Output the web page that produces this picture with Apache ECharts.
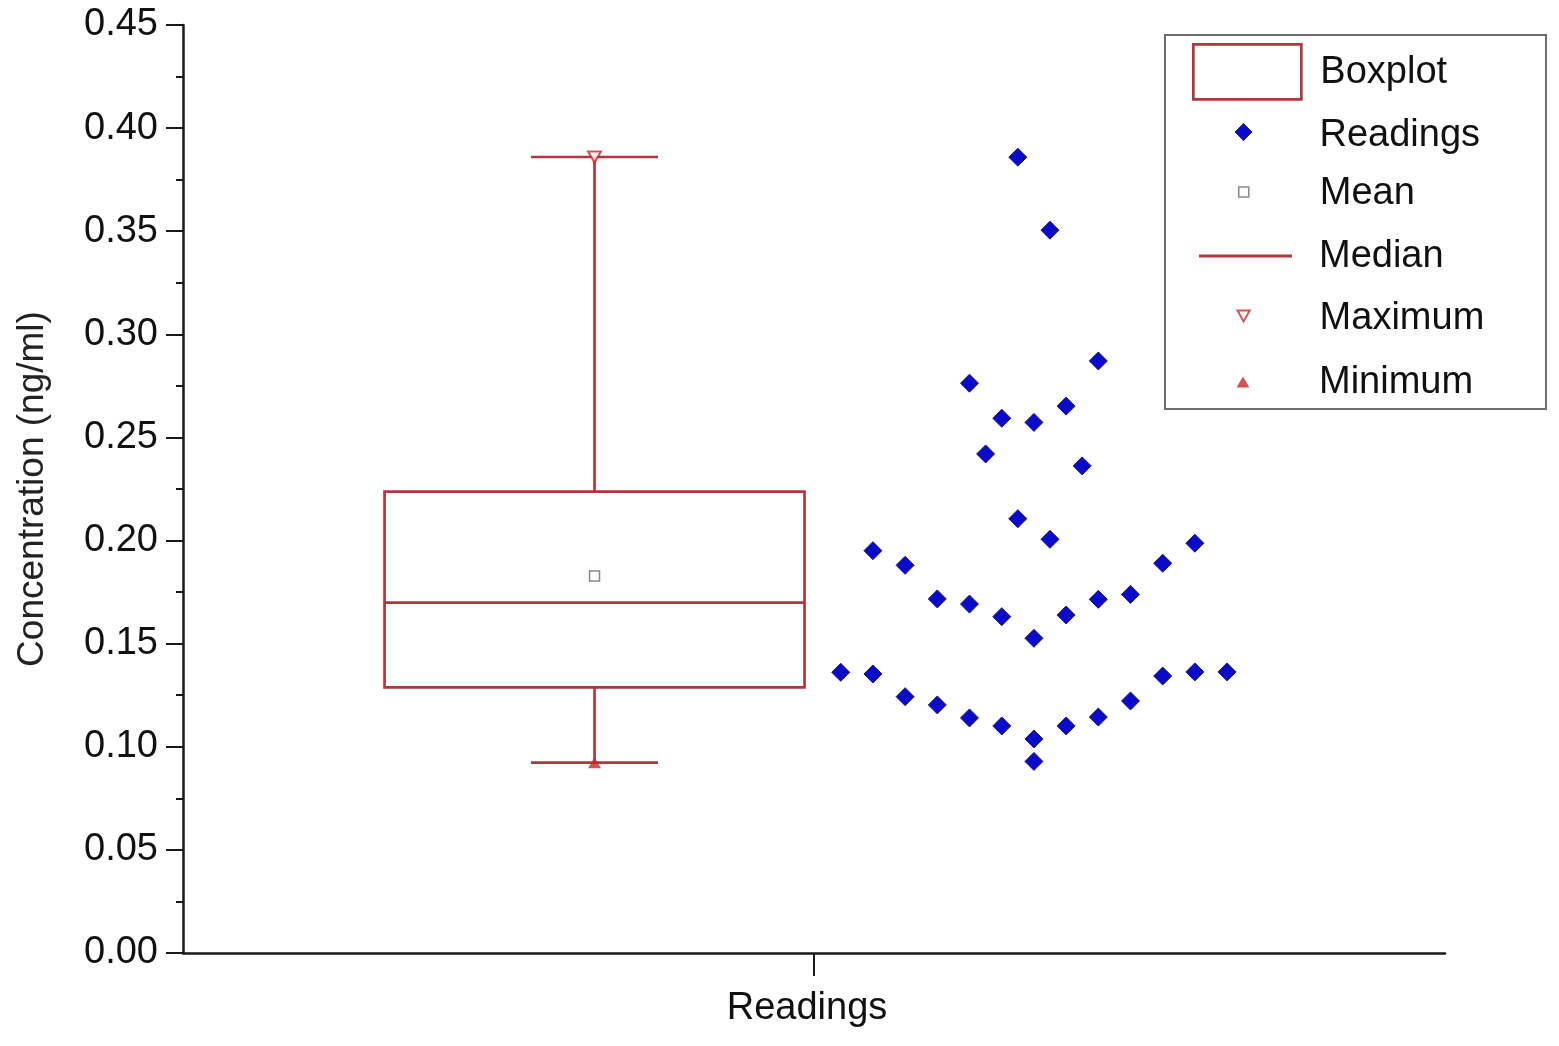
<!DOCTYPE html>
<html>
<head>
<meta charset="utf-8">
<script src="https://cdn.jsdelivr.net/npm/echarts@6/dist/echarts.min.js"></script>
<style>
html,body{margin:0;padding:0;background:#fff;}
#chart{width:1559px;height:1046px;}
</style>
</head>
<body>
<div id="chart"></div>
<script>
// ---------- data ----------
const categoryLabel = 'Readings';
const yTickLabels = ['0.00','0.05','0.10','0.15','0.20','0.25','0.30','0.35','0.40','0.45'];
// beeswarm x positions (axis units) and concentrations (ng/ml)
const readingsX = [
  0.5212,0.5467,0.5722,0.5977,0.6232,0.6488,0.6743,0.6743,0.6998,0.7253,0.7508,0.7763,0.8018,0.8273,
  0.5467,0.5722,0.5977,0.6232,0.6488,0.6743,0.6998,0.7253,0.7508,0.7763,0.8018,0.6615,0.6870,
  0.6615,0.6870,0.7253,0.6232,0.6488,0.6743,0.6998,0.6360,0.7125
];
const readingsY = [
  0.1361,0.1353,0.1243,0.1203,0.1140,0.1101,0.1038,0.0929,0.1101,0.1144,0.1222,0.1343,0.1363,0.1363,
  0.1951,0.1880,0.1717,0.1692,0.1631,0.1526,0.1639,0.1715,0.1739,0.1890,0.1987,0.2106,0.2006,
  0.3859,0.3505,0.2871,0.2763,0.2593,0.2573,0.2652,0.2420,0.2362
];
// box statistics: [x, min, Q1, median, Q3, max]
const boxStats = [0.3261, 0.0923, 0.1288, 0.1699, 0.2237, 0.3860];
const meanValue = 0.1828;
const legendNames = ['Boxplot','Readings','Mean','Median','Maximum','Minimum'];

// ---------- styles ----------
const RED = '#ad383d';
const FONT = '"Liberation Sans", Arial, sans-serif';
const BOX_HALF = 0.1664;
const CAP_HALF = 0.0503;

const chart = echarts.init(document.getElementById('chart'));

const readingsData = readingsX.map((x, i) => [x, readingsY[i]]);

function renderBox(params, api) {
  const x = api.value(0), mn = api.value(1), q1 = api.value(2), q3 = api.value(4), mx = api.value(5);
  const tl = api.coord([x - BOX_HALF, q3]);
  const br = api.coord([x + BOX_HALF, q1]);
  const cQ3 = api.coord([x, q3]), cMax = api.coord([x, mx]);
  const cQ1 = api.coord([x, q1]), cMin = api.coord([x, mn]);
  const capL1 = api.coord([x - CAP_HALF, mx]), capR1 = api.coord([x + CAP_HALF, mx]);
  const capL2 = api.coord([x - CAP_HALF, mn]), capR2 = api.coord([x + CAP_HALF, mn]);
  const st = {stroke: RED, lineWidth: 2.7, fill: null};
  return {
    type: 'group',
    children: [
      {type: 'line', shape: {x1: cQ3[0], y1: cQ3[1], x2: cMax[0], y2: cMax[1]}, style: st},
      {type: 'line', shape: {x1: cQ1[0], y1: cQ1[1], x2: cMin[0], y2: cMin[1]}, style: st},
      {type: 'line', shape: {x1: capL1[0], y1: capL1[1], x2: capR1[0], y2: capR1[1]}, style: st},
      {type: 'line', shape: {x1: capL2[0], y1: capL2[1], x2: capR2[0], y2: capR2[1]}, style: st},
      {type: 'rect', shape: {x: tl[0], y: tl[1], width: br[0] - tl[0], height: br[1] - tl[1]},
        style: {stroke: RED, lineWidth: 2.7, fill: 'rgba(0,0,0,0)'}}
    ]
  };
}
function renderMedian(params, api) {
  const x = api.value(0), med = api.value(3);
  const a = api.coord([x - BOX_HALF, med]), b = api.coord([x + BOX_HALF, med]);
  return {type: 'line', shape: {x1: a[0], y1: a[1], x2: b[0], y2: b[1]}, style: {stroke: RED, lineWidth: 2.7}};
}

const TRI_DOWN = 'path://M0,0 L10,0 L5,9 Z';
const legendIcons = {
  'Boxplot':  {icon: 'rect', w: 108, h: 55, cx: 1246, cy: 70.5, dy: 1, itemStyle: {color: '#fff', borderColor: RED, borderWidth: 2.7}},
  'Readings': {icon: 'diamond', w: 17, h: 17, cx: 1243, cy: 131, dy: 4, itemStyle: {color: '#0a0acc', borderColor: '#202060', borderWidth: 1}},
  'Mean':     {icon: 'rect', w: 10, h: 10, cx: 1243, cy: 192, dy: 2, itemStyle: {color: '#fff', borderColor: '#7d6465', borderWidth: 1.5}},
  'Median':   {icon: 'rect', w: 93, h: 3, cx: 1245.5, cy: 256, dy: 1, itemStyle: {color: RED, borderWidth: 0}},
  'Maximum':  {icon: TRI_DOWN, w: 13, h: 11, cx: 1243, cy: 316, dy: 3, itemStyle: {color: '#fff', borderColor: '#c8282c', borderWidth: 2}},
  'Minimum':  {icon: 'triangle', w: 13, h: 11, cx: 1243, cy: 382, dy: 1, itemStyle: {color: '#c8282c', borderWidth: 0}}
};
const TEXT_X = 1319;
const LH = 44;
const legends = legendNames.map(name => {
  const c = legendIcons[name];
  const left = c.cx - c.w / 2;
  const spacer = TEXT_X - (left + c.w + 5);
  return {
    show: true,
    orient: 'vertical',
    padding: 0,
    left: left,
    top: c.cy - Math.max(c.h, LH) / 2,
    itemWidth: c.w,
    itemHeight: c.h,
    selectedMode: false,
    data: [{name: name, icon: c.icon, itemStyle: c.itemStyle}],
    formatter: n => '{sp| }{t|' + n + '}',
    textStyle: {
      fontSize: 38, fontFamily: FONT, color: '#111', lineHeight: LH,
      rich: {
        sp: {width: spacer, fontSize: 38, lineHeight: LH},
        t: {fontSize: 38, fontFamily: FONT, color: '#111', lineHeight: LH, padding: [2 * c.dy, 0, 0, 0]}
      }
    }
  };
});

const option = {
  backgroundColor: '#fff',
  animation: false,
  grid: {left: 183, right: 114, top: 25, bottom: 93, containLabel: false},
  xAxis: {
    type: 'value', min: 0, max: 1, interval: 0.5,
    axisLine: {show: true, onZero: false, lineStyle: {color: '#1a1a1a', width: 2.5}},
    axisTick: {show: true, inside: false, length: 23, customValues: [0.5], lineStyle: {color: '#1a1a1a', width: 2}},
    axisLabel: {show: true, customValues: [0.5], formatter: () => categoryLabel, margin: 37,
      padding: [0, 14, 0, 0], fontSize: 38, fontFamily: FONT, color: '#111'},
    splitLine: {show: false}
  },
  yAxis: {
    type: 'value', min: 0, max: 0.45, interval: 0.05,
    name: 'Concentration (ng/ml)', nameLocation: 'middle', nameGap: 132,
    nameTextStyle: {fontSize: 37, fontFamily: FONT, color: '#222'},
    axisLine: {show: true, lineStyle: {color: '#1a1a1a', width: 2.5}},
    axisTick: {show: true, inside: false, length: 17, lineStyle: {color: '#1a1a1a', width: 2}},
    minorTick: {show: true, splitNumber: 2, length: 7, lineStyle: {color: '#1a1a1a', width: 2}},
    axisLabel: {margin: 25, fontSize: 38, fontFamily: FONT, color: '#111',
      formatter: (v) => yTickLabels[Math.round(v / 0.05)] || v.toFixed(2)},
    splitLine: {show: false}
  },
  legend: legends,
  graphic: [{
    type: 'rect', z: 0,
    shape: {x: 1165, y: 35, width: 381, height: 374},
    style: {fill: null, stroke: '#6e6e6e', lineWidth: 2}
  }],
  series: [
    {name: 'Boxplot', type: 'custom', renderItem: renderBox, data: [boxStats], z: 2,
      encode: {x: 0, y: [1, 2, 3, 4, 5]}, itemStyle: {color: RED}},
    {name: 'Median', type: 'custom', renderItem: renderMedian, data: [boxStats], z: 3,
      encode: {x: 0, y: [1, 2, 3, 4, 5]}, itemStyle: {color: RED}},
    {name: 'Mean', type: 'scatter', data: [[boxStats[0], meanValue]], symbol: 'rect', symbolSize: 10, z: 4,
      itemStyle: {color: '#fff', borderColor: '#7d6465', borderWidth: 1.5}},
    {name: 'Maximum', type: 'scatter', data: [[boxStats[0], boxStats[5]]], symbol: TRI_DOWN, symbolSize: [13, 11], z: 4,
      itemStyle: {color: '#fff', borderColor: '#c8282c', borderWidth: 2}},
    {name: 'Minimum', type: 'scatter', data: [[boxStats[0], boxStats[1]]], symbol: 'triangle', symbolSize: [13, 11], z: 4,
      itemStyle: {color: '#c8282c'}},
    {name: 'Readings', type: 'scatter', data: readingsData, symbol: 'diamond', symbolSize: 18, z: 5,
      itemStyle: {color: '#0a0acc', borderColor: '#1c1c5a', borderWidth: 1, opacity: 1}}
  ]
};
chart.setOption(option);
</script>
</body>
</html>
